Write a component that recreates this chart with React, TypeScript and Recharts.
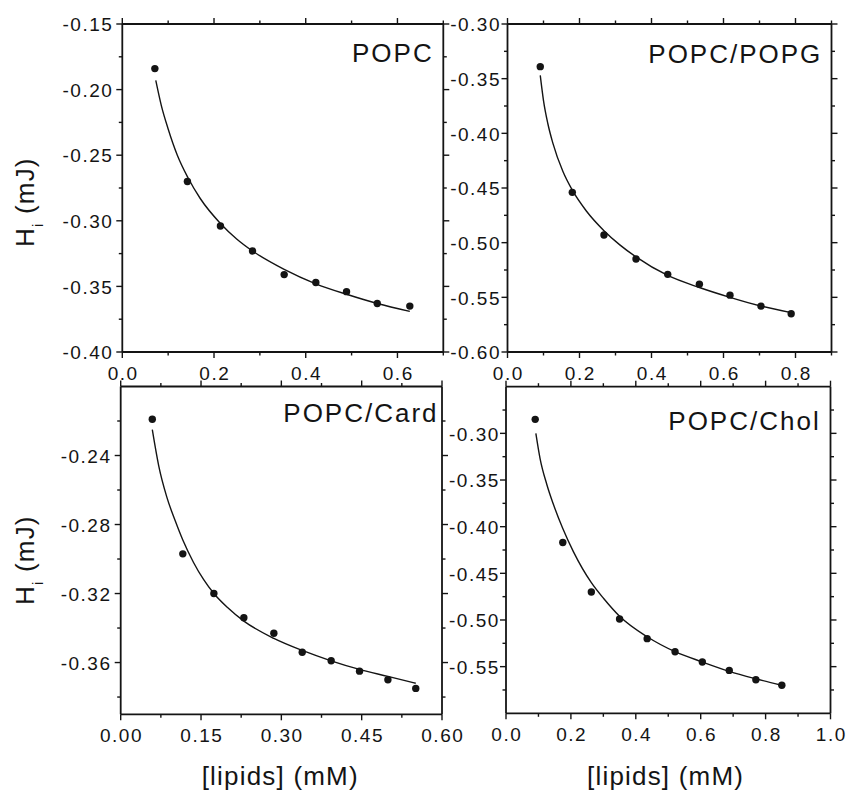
import React from 'react';
import { ComposedChart, XAxis, YAxis, Line, Scatter } from 'recharts';

// ---------- data ----------
// POPC
const popcX = [0.071, 0.142, 0.214, 0.284, 0.353, 0.422, 0.489, 0.556, 0.627];
const popcY = [-0.184, -0.270, -0.304, -0.323, -0.341, -0.347, -0.354, -0.363, -0.365];
const popcFitX = [0.073, 0.085, 0.100, 0.120, 0.143, 0.170, 0.214, 0.250, 0.284, 0.353, 0.422, 0.489, 0.556, 0.627];
const popcFitY = [-0.193, -0.212, -0.230, -0.250, -0.267, -0.283, -0.302, -0.314, -0.323, -0.337, -0.348, -0.356, -0.363, -0.369];

// POPC/POPG
const popgX = [0.091, 0.180, 0.268, 0.357, 0.445, 0.533, 0.618, 0.704, 0.788];
const popgY = [-0.339, -0.454, -0.493, -0.515, -0.529, -0.538, -0.548, -0.558, -0.565];
const popgFitX = [0.091, 0.100, 0.112, 0.126, 0.154, 0.180, 0.219, 0.268, 0.312, 0.357, 0.445, 0.533, 0.618, 0.704, 0.788];
const popgFitY = [-0.347, -0.370, -0.391, -0.409, -0.435, -0.452, -0.471, -0.489, -0.502, -0.513, -0.530, -0.541, -0.550, -0.558, -0.564];

// POPC/Card
const cardX = [0.059, 0.116, 0.174, 0.230, 0.286, 0.339, 0.393, 0.446, 0.499, 0.551];
const cardY = [-0.219, -0.297, -0.320, -0.334, -0.343, -0.354, -0.359, -0.365, -0.370, -0.375];
const cardFitX = [0.059, 0.071, 0.086, 0.102, 0.116, 0.136, 0.155, 0.174, 0.199, 0.230, 0.286, 0.339, 0.393, 0.446, 0.499, 0.551];
const cardFitY = [-0.225, -0.246, -0.264, -0.278, -0.289, -0.302, -0.312, -0.320, -0.328, -0.336, -0.346, -0.353, -0.359, -0.364, -0.368, -0.372];

// POPC/Chol
const cholX = [0.090, 0.175, 0.263, 0.350, 0.435, 0.521, 0.605, 0.688, 0.770, 0.850];
const cholY = [-0.285, -0.417, -0.470, -0.499, -0.520, -0.534, -0.545, -0.554, -0.564, -0.570];
const cholFitX = [0.092, 0.105, 0.126, 0.146, 0.175, 0.208, 0.263, 0.301, 0.350, 0.435, 0.521, 0.605, 0.688, 0.770, 0.850];
const cholFitY = [-0.300, -0.327, -0.355, -0.376, -0.402, -0.427, -0.460, -0.477, -0.496, -0.518, -0.534, -0.545, -0.555, -0.563, -0.570];

// ticks
const popcXMajor = [0, 0.2, 0.4, 0.6];
const popcXMinor = [0.1, 0.3, 0.5, 0.7];
const popcYMajor = [-0.40, -0.35, -0.30, -0.25, -0.20, -0.15];
const popcYMinor = [-0.375, -0.325, -0.275, -0.225, -0.175];

const popgXMajor = [0, 0.2, 0.4, 0.6, 0.8];
const popgXMinor = [0.1, 0.3, 0.5, 0.7, 0.9];
const popgYMajor = [-0.60, -0.55, -0.50, -0.45, -0.40, -0.35, -0.30];
const popgYMinor = [-0.575, -0.525, -0.475, -0.425, -0.375, -0.325];

const cardXMajor = [0, 0.15, 0.30, 0.45, 0.60];
const cardXMinor = [0.075, 0.225, 0.375, 0.525];
const cardYMajor = [-0.36, -0.32, -0.28, -0.24];
const cardYMinor = [-0.38, -0.34, -0.30, -0.26, -0.22];

const cholXMajor = [0, 0.2, 0.4, 0.6, 0.8, 1.0];
const cholXMinor = [0.1, 0.3, 0.5, 0.7, 0.9];
const cholYMajor = [-0.55, -0.50, -0.45, -0.40, -0.35, -0.30];
const cholYMinor = [-0.575, -0.525, -0.475, -0.425, -0.375, -0.325, -0.275];

const panelNames = ['POPC', 'POPC/POPG', 'POPC/Card', 'POPC/Chol'];
const yTitleMain = 'H';
const yTitleSub = 'i';
const yTitleUnit = ' (mJ)';
const xTitle = '[lipids] (mM)';

// ---------- presentation ----------
const W = 848;
const H = 791;
const FONT = '"Liberation Sans", Arial, Helvetica, sans-serif';
const INK = '#141414';

const zip = (xs: number[], ys: number[]) => xs.map((x, i) => ({ x, y: ys[i] }));

type Side = 'bottom' | 'left' | 'top' | 'right';

function makeTick(side: Side, majors: number[], digits: number, gap: number) {
  return (props: any) => {
    const { x, y, payload } = props;
    const v = Number(payload.value);
    const isMajor = majors.some((m) => Math.abs(m - v) < 1e-6);
    const len = isMajor ? 6 : 3.5;
    let line: React.ReactNode = null;
    let label: React.ReactNode = null;
    const lp = { stroke: INK, strokeWidth: 1.4 };
    const tp = { fontFamily: FONT, fontSize: 19, fill: INK, letterSpacing: 1.5 } as any;
    if (side === 'bottom') {
      line = <line x1={x} y1={y} x2={x} y2={y + len} {...lp} />;
      if (isMajor) label = <text x={x + 0.8} y={y + 28} textAnchor="middle" {...tp}>{v.toFixed(digits)}</text>;
    } else if (side === 'top') {
      line = <line x1={x} y1={y} x2={x} y2={y - len} {...lp} />;
    } else if (side === 'left') {
      line = <line x1={x - len} y1={y} x2={x} y2={y} {...lp} />;
      if (isMajor) label = <text x={x - gap} y={y + 7.2} textAnchor="end" {...tp}>{v.toFixed(digits)}</text>;
    } else {
      line = <line x1={x} y1={y} x2={x + len} y2={y} {...lp} />;
    }
    return (
      <g>
        {line}
        {label}
      </g>
    );
  };
}

const Dot = (p: any) => <circle cx={p.cx} cy={p.cy} r={3.7} fill={INK} />;

interface PanelProps {
  rect: [number, number, number, number];
  xDomain: [number, number];
  yDomain: [number, number];
  xMajor: number[];
  xMinor: number[];
  yMajor: number[];
  yMinor: number[];
  xDigits: number;
  yDigits: number;
  yGap: number;
  points: { x: number; y: number }[];
  fit: { x: number; y: number }[];
}

function Panel(props: PanelProps) {
  const { rect, xDomain, yDomain, xMajor, xMinor, yMajor, yMinor, xDigits, yDigits, yGap, points, fit } = props;
  const [px0, py0, px1, py1] = rect;
  const margin = { left: px0 - 60, right: W - px1 - 10, top: py0 - 10, bottom: H - py1 - 40 };
  const xTicks = [...xMajor, ...xMinor].sort((a, b) => a - b);
  const yTicks = [...yMajor, ...yMinor].sort((a, b) => a - b);
  const axisLine = { stroke: INK, strokeWidth: 1.8 };
  return (
    <div style={{ position: 'absolute', left: 0, top: 0 }}>
      <ComposedChart width={W} height={H} margin={margin}>
        <XAxis xAxisId="b" dataKey="x" type="number" domain={xDomain} ticks={xTicks} interval={0}
          orientation="bottom" height={40} tickSize={0} tickMargin={0} tickLine={false}
          axisLine={axisLine} tick={makeTick('bottom', xMajor, xDigits, 0)} allowDataOverflow />
        <XAxis xAxisId="t" dataKey="x" type="number" domain={xDomain} ticks={xTicks} interval={0}
          orientation="top" height={10} tickSize={0} tickMargin={0} tickLine={false}
          axisLine={axisLine} tick={makeTick('top', xMajor, xDigits, 0)} allowDataOverflow />
        <YAxis yAxisId="l" dataKey="y" type="number" domain={yDomain} ticks={yTicks} interval={0}
          orientation="left" width={60} tickSize={0} tickMargin={0} tickLine={false}
          axisLine={axisLine} tick={makeTick('left', yMajor, yDigits, yGap)} allowDataOverflow />
        <YAxis yAxisId="r" dataKey="y" type="number" domain={yDomain} ticks={yTicks} interval={0}
          orientation="right" width={10} tickSize={0} tickMargin={0} tickLine={false}
          axisLine={axisLine} tick={makeTick('right', yMajor, yDigits, 0)} allowDataOverflow />
        <Line xAxisId="b" yAxisId="l" data={fit} dataKey="y" type="monotone" dot={false}
          stroke={INK} strokeWidth={1.4} isAnimationActive={false} />
        <Scatter xAxisId="b" yAxisId="l" data={points} dataKey="y" fill={INK} shape={Dot}
          isAnimationActive={false} />
      </ComposedChart>
    </div>
  );
}

export default function App() {
  const labelStyle = { fontFamily: FONT, fontSize: 26, fill: INK, letterSpacing: 2 } as any;
  const titleStyle = { fontFamily: FONT, fontSize: 26, fill: INK, letterSpacing: 1.2 } as any;
  const yTitle = (bx: number, by: number) => (
    <text x={bx} y={by} transform={`rotate(-90, ${bx}, ${by})`} textAnchor="start" {...titleStyle}>
      {yTitleMain}
      <tspan fontSize={15} dy={9}>{yTitleSub}</tspan>
      <tspan dy={-9}>{yTitleUnit}</tspan>
    </text>
  );
  return (
    <div style={{ position: 'absolute', left: 0, top: 0, width: W, height: H, background: '#fff', overflow: 'hidden' }}>
      <Panel rect={[122.3, 24, 443.3, 352]} xDomain={[0, 0.7]} yDomain={[-0.40, -0.15]}
        xMajor={popcXMajor} xMinor={popcXMinor} yMajor={popcYMajor} yMinor={popcYMinor}
        xDigits={1} yDigits={2} yGap={9} points={zip(popcX, popcY)} fit={zip(popcFitX, popcFitY)} />
      <Panel rect={[507.5, 24, 831.5, 352]} xDomain={[0, 0.9]} yDomain={[-0.60, -0.30]}
        xMajor={popgXMajor} xMinor={popgXMinor} yMajor={popgYMajor} yMinor={popgYMinor}
        xDigits={1} yDigits={2} yGap={6.5} points={zip(popgX, popgY)} fit={zip(popgFitX, popgFitY)} />
      <Panel rect={[120.7, 386.5, 442, 714.3]} xDomain={[0, 0.6]} yDomain={[-0.39, -0.20]}
        xMajor={cardXMajor} xMinor={cardXMinor} yMajor={cardYMajor} yMinor={cardYMinor}
        xDigits={2} yDigits={2} yGap={9.2} points={zip(cardX, cardY)} fit={zip(cardFitX, cardFitY)} />
      <Panel rect={[506, 386.7, 830.5, 713.3]} xDomain={[0, 1.0]} yDomain={[-0.60, -0.25]}
        xMajor={cholXMajor} xMinor={cholXMinor} yMajor={cholYMajor} yMinor={cholYMinor}
        xDigits={1} yDigits={2} yGap={6.2} points={zip(cholX, cholY)} fit={zip(cholFitX, cholFitY)} />
      <svg width={W} height={H} style={{ position: 'absolute', left: 0, top: 0, pointerEvents: 'none' }}>
        <text x={352} y={61.7} {...labelStyle}>{panelNames[0]}</text>
        <text x={648.3} y={63} {...labelStyle}>{panelNames[1]}</text>
        <text x={283.3} y={422.3} {...labelStyle}>{panelNames[2]}</text>
        <text x={668.3} y={430} {...labelStyle}>{panelNames[3]}</text>
        {yTitle(34, 247)}
        {yTitle(34, 605)}
        <text x={201.7} y={785} {...titleStyle}>{xTitle}</text>
        <text x={587} y={785} {...titleStyle}>{xTitle}</text>
      </svg>
    </div>
  );
}
